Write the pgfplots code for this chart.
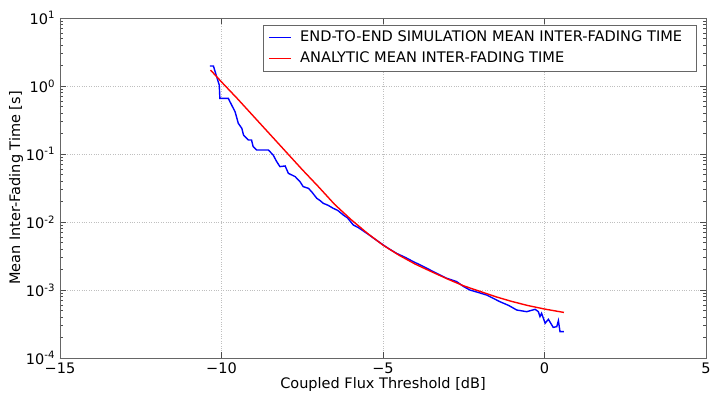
\documentclass[border=0pt]{standalone}
\usepackage{fontspec}
\setmainfont{DejaVu Sans}
\usepackage{pgfplots}
\pgfplotsset{compat=1.18}

\begin{document}
\fontsize{14.5}{16}\selectfont
\begin{tikzpicture}
\begin{semilogyaxis}[
  scale only axis, width=646pt, height=340pt,
  xmin=-15, xmax=5, ymin=1e-4, ymax=10,
  xtick={-15,-10,-5,0,5},
  xticklabels={−15,−10,−5,0,5},
  ytick={1e-4,1e-3,1e-2,1e-1,1,10},
  yticklabels={10\textsuperscript{-4},10\textsuperscript{-3},10\textsuperscript{-2},10\textsuperscript{-1},10\textsuperscript{0},10\textsuperscript{1}},
  grid=major, major grid style={dotted, black!25},
  axis line style={black!60},
  tick style={black!70},
  major tick length=6pt, minor tick length=3pt,
  xlabel={Coupled Flux Threshold [dB]},
  ylabel={Mean Inter-Fading Time [s]},
  xlabel style={yshift=6pt},
  ylabel shift=-7pt,
  legend cell align=left,
  legend style={at={(0.985,0.98)}, anchor=north east, draw=black!60,
    font=\fontsize{14.6}{16}\selectfont, row sep=4pt, inner xsep=6pt, inner ysep=4pt,
    nodes={inner xsep=8pt}},
  legend image code/.code={\draw[#1] (0pt,0pt) -- (22pt,0pt);},
]
\addplot[blue, line width=1.4pt] coordinates {
(-10.36,1.968) (-10.25,1.968) (-10.15,1.371) (-10.07,1.035) (-10.05,0.659)
(-9.79,0.659) (-9.74,0.589) (-9.58,0.419) (-9.48,0.2825) (-9.37,0.2382)
(-9.32,0.1905) (-9.17,0.1607) (-9.07,0.1607) (-9.02,0.1282) (-8.91,0.1146)
(-8.55,0.1146) (-8.40,0.0966) (-8.29,0.0771) (-8.19,0.0652) (-8.03,0.0667)
(-7.93,0.0520) (-7.72,0.0465) (-7.57,0.0392) (-7.47,0.0331) (-7.31,0.0313)
(-7.21,0.0279) (-7.05,0.0223) (-6.95,0.0207) (-6.85,0.01884) (-6.70,0.01760) (-6.54,0.01589)
(-6.40,0.01480) (-6.23,0.01268) (-6.10,0.01150) (-5.92,0.00904) (-5.75,0.00820) (-5.50,0.00681)
(-5.25,0.00560) (-4.99,0.00459) (-4.80,0.00400) (-4.58,0.00346) (-4.30,0.00300) (-4.06,0.00261)
(-3.80,0.00228) (-3.54,0.00197) (-3.30,0.00172) (-3.03,0.00149) (-2.72,0.00133) (-2.50,0.00112)
(-2.31,0.00100) (-2.05,0.000920) (-1.79,0.000843) (-1.60,0.000760)
(-1.38,0.000673) (-1.10,0.000590) (-0.86,0.000508) (-0.55,0.000480) (-0.29,0.000520) (-0.19,0.000480)
(-0.14,0.000406) (-0.09,0.000454) (0.02,0.000324) (0.12,0.000371) (0.27,0.000282)
(0.38,0.000289) (0.43,0.000354) (0.48,0.000244) (0.60,0.000244)
};
\addlegendentry{END-TO-END SIMULATION MEAN INTER-FADING TIME}
\addplot[red, line width=1.4pt] coordinates {
(-10.34,1.718) (-10.0,1.148) (-9.5,0.6457) (-9.0,0.3548) (-8.5,0.1950)
(-8.0,0.1072) (-7.5,0.0589) (-7.0,0.0331) (-6.5,0.01820) (-6.0,0.01096)
(-5.5,0.00692) (-5.0,0.00457) (-4.5,0.00324) (-4.0,0.00240) (-3.5,0.00186)
(-3.0,0.00145) (-2.5,0.00115) (-2.0,0.000955) (-1.5,0.000794) (-1.0,0.000676)
(-0.5,0.000589) (0.0,0.000525) (0.6,0.000468)
};
\addlegendentry{ANALYTIC MEAN INTER-FADING TIME}
\end{semilogyaxis}
\pgfresetboundingbox
\path[use as bounding box] ([shift={(-60pt,-38pt)}]current axis.south west)
  rectangle ([shift={(4pt,18pt)}]current axis.north east);
\end{tikzpicture}
\end{document}
